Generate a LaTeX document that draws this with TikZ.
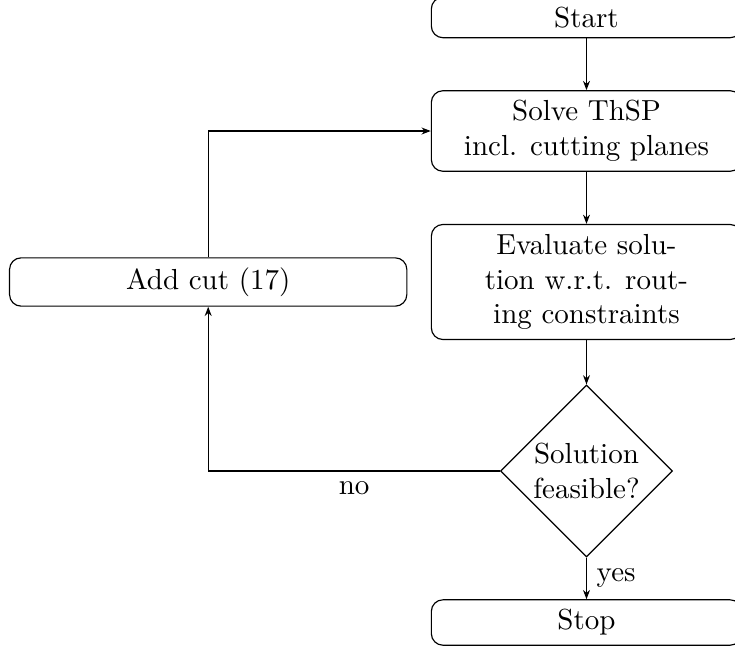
\documentclass[tikz,border=0pt]{standalone}
\usetikzlibrary{arrows.meta,shapes.geometric}
\begin{document}
\begin{tikzpicture}[x=0.34483pt,y=-0.34483pt,
  box/.style={draw, rounded corners=4pt, minimum width=107pt, align=center},
  leftbox/.style={draw, rounded corners=4pt, minimum width=137pt},
  decision/.style={draw, diamond, aspect=1, inner sep=0pt, minimum width=59.3pt, minimum height=59.3pt, align=center},
  arr/.style={-{Stealth[length=3.2pt,width=2.4pt]}}]
\clip (0,0) rectangle (735,651);
\node[box] (start) at (586.5,17.5) {Start};
\node[box] (solve) at (586.5,131) {Solve ThSP\\incl. cutting planes};
\node[box] (eval) at (586.5,282) {Evaluate solu-\\tion w.r.t. rout-\\ing constraints};
\node[decision] (dec) at (586.5,471) {Solution\\feasible?};
\node[box] (stop) at (586.5,622.5) {Stop};
\node[leftbox] (add) at (208.2,282) {Add cut (17)};
\draw[arr] (start) -- (solve);
\draw[arr] (solve) -- (eval);
\draw[arr] (eval) -- (dec);
\draw[arr] (dec) -- node[right] {yes} (stop);
\draw[arr] (dec.west) -| node[pos=0.25, below] {no} (add.south);
\draw[arr] (add.north) |- (solve.west);
\end{tikzpicture}
\end{document}
